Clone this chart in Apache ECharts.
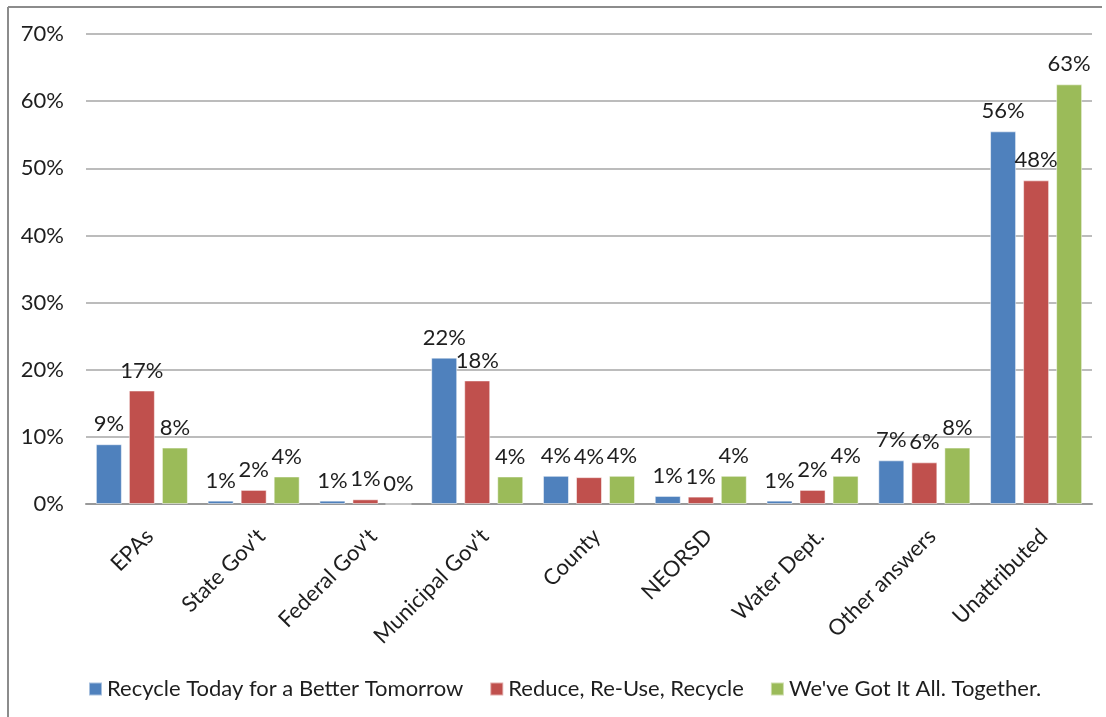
<!DOCTYPE html>
<html>
<head>
<meta charset="utf-8">
<script src="https://cdn.jsdelivr.net/npm/echarts@6/dist/echarts.min.js"></script>
<style>
  html, body { margin: 0; padding: 0; background: #fff; }
  #chart { width: 1106px; height: 717px; }
</style>
</head>
<body>
<div id="chart"></div>
<script>
// categories and values (percent)
const categories = ["EPAs", "State Gov't", "Federal Gov't", "Municipal Gov't", "County", "NEORSD", "Water Dept.", "Other answers", "Unattributed"];
const seriesNames = ["Recycle Today for a Better Tomorrow", "Reduce, Re-Use, Recycle", "We've Got It All. Together."];
const recycleToday = [8.9, 0.5, 0.5, 21.8, 4.2, 1.2, 0.5, 6.5, 55.5];
const reduceReuse = [16.9, 2.1, 0.7, 18.4, 4.0, 1.1, 2.1, 6.2, 48.2];
const gotItAll = [8.4, 4.1, 0, 4.1, 4.2, 4.2, 4.2, 8.4, 62.5];
const yTicks = [0, 10, 20, 30, 40, 50, 60, 70];

const colors = ["#4F81BD", "#C0504D", "#9BBB59"];
const font = "Lato, 'Open Sans', sans-serif";

const chart = echarts.init(document.getElementById("chart"), null, { renderer: "canvas" });

function barSeries(name, data, color) {
  return {
    name: name,
    type: "bar",
    data: data,
    barWidth: 26,
    barGap: "27%",
    itemStyle: { color: color, borderColor: "rgba(255,255,255,0.5)", borderWidth: 1 },
    label: {
      show: true,
      position: "top",
      distance: 9,
      fontFamily: font,
      fontSize: 22,
      color: "#1e1e1e",
      formatter: (p) => Math.round(p.value) + "%"
    }
  };
}

chart.setOption({
  animation: false,
  textStyle: { fontFamily: font },
  graphic: [
    { type: "line", shape: { x1: 8, y1: 7, x2: 1102, y2: 7 }, style: { stroke: "#8c8c8c", lineWidth: 2 } },
    { type: "line", shape: { x1: 8, y1: 7, x2: 8, y2: 717 }, style: { stroke: "#8c8c8c", lineWidth: 2 } }
  ],
  grid: { left: 86, right: 14, top: 34, bottom: 213 },
  legend: {
    left: 83,
    top: 673,
    itemWidth: 13,
    itemHeight: 13,
    itemGap: 26,
    icon: "rect",
    textStyle: { fontFamily: font, fontSize: 22, color: "#1e1e1e" },
    data: seriesNames
  },
  xAxis: {
    type: "category",
    data: categories,
    axisLine: { lineStyle: { color: "#999", width: 2 } },
    axisTick: { show: false },
    axisLabel: {
      interval: 0,
      rotate: 45,
      margin: 21,
      verticalAlign: "top",
      fontFamily: font,
      fontSize: 22,
      color: "#1e1e1e"
    }
  },
  yAxis: {
    type: "value",
    min: yTicks[0],
    max: yTicks[yTicks.length - 1],
    interval: 10,
    axisLine: { show: false },
    axisTick: { show: false },
    splitLine: { lineStyle: { color: "#a6a6a6", width: 1.5 } },
    axisLabel: {
      margin: 22,
      fontFamily: font,
      fontSize: 22,
      color: "#1e1e1e",
      formatter: (v) => v + "%"
    }
  },
  series: [
    barSeries(seriesNames[0], recycleToday, colors[0]),
    barSeries(seriesNames[1], reduceReuse, colors[1]),
    barSeries(seriesNames[2], gotItAll, colors[2])
  ]
});
</script>
</body>
</html>
